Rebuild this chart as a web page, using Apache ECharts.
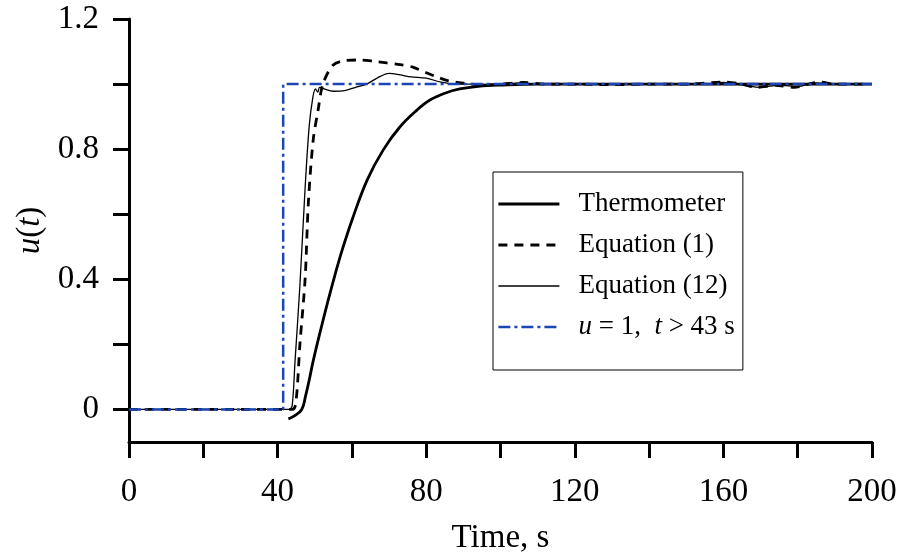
<!DOCTYPE html>
<html><head><meta charset="utf-8">
<script src="https://cdn.jsdelivr.net/npm/echarts@6/dist/echarts.min.js"></script>
<style>html,body{margin:0;padding:0;background:#fff}#c{width:907px;height:558px}</style>
</head><body><div id="c"></div>
<script>
// ---- data ----
const xTickValues = [0,20,40,60,80,100,120,140,160,180,200];
const xLabelValues = [0,40,80,120,160,200];
const yTickValues = [0,0.2,0.4,0.6,0.8,1.0,1.2];
const yLabelValues = [0,0.4,0.8,1.2];

const thermoT = [42.9,44.5,46.5,47.5,48.5,49.6,51.6,53.6,55.6,57.6,60.3,64.1,68.4,72.9,77.5,81,85,89,94,100,110,130,200];
const thermoU = [-0.029,-0.02,0.0,0.04,0.09,0.15,0.245,0.335,0.42,0.498,0.591,0.705,0.797,0.868,0.92,0.951,0.972,0.985,0.993,0.997,1.0,1.0,1.0];

const eq1T = [0,44,45,46,47.4,48.3,49.6,50.9,52.2,54.9,58,62.2,66,69.4,73,76.4,80,82.9,86,90,95,100,106,112,120,130,140,150,160,165,169,174,179,183,186,190,199.5];
const eq1U = [0,0,0.03,0.2,0.4,0.64,0.83,0.92,1.0,1.058,1.072,1.074,1.07,1.065,1.06,1.052,1.035,1.022,1.01,1.003,0.998,1.0,1.005,1.0,1.0,0.998,1.0,1.0,1.006,1.0,0.99,0.996,0.99,1.0,1.006,1.0,1.0];

const eq12T = [0,43,43.9,44.7,46,47.4,48.5,49.5,50.2,50.8,51.3,52.5,55,58,61,64,67,70,73,76,80,84,88,95,100,105,110,125,140,155,160,166,170,175,180,185,190,200];
const eq12U = [0,0,0.01,0.15,0.38,0.68,0.87,0.96,0.985,0.975,0.99,0.985,0.978,0.98,0.99,1.0,1.02,1.033,1.028,1.022,1.018,1.006,1.0,1.0,0.998,1.004,1.0,1.0,0.999,1.0,1.005,0.995,0.99,0.997,0.992,1.004,1.0,1.0];

const stepT = [0,41.5,41.5,200];
const stepU = [0,0,1,1];

const names = ['Thermometer','Equation (1)','Equation (12)','step'];

const pair = (a,b) => a.map((v,i)=>[v,b[i]]);
const FONT = "'Liberation Serif','Times New Roman',serif";
const BLUE = '#1c46b4';

const styles = [
  {color:'#000', width:2.8, type:'solid'},
  {color:'#000', width:2.8, type:[9,7]},
  {color:'#000', width:1.3, type:'solid'},
  {color:BLUE, width:2.5, type:[12,4,3,4]}
];

const chart = echarts.init(document.getElementById('c'), null, {renderer:'canvas'});
chart.setOption({
  animation:false,
  grid:{left:129, right:35, top:19, bottom:116, containLabel:false, outerBoundsMode:'none'},
  xAxis:{
    type:'value', min:0, max:200,
    name:'Time, s', nameLocation:'middle', nameGap:80,
    nameTextStyle:{fontFamily:FONT, fontSize:33, color:'#000'},
    axisLine:{show:true, onZero:false, lineStyle:{color:'#000', width:3}},
    axisTick:{show:true, inside:false, length:16, lineStyle:{color:'#000', width:3}, customValues:xTickValues},
    axisLabel:{fontFamily:FONT, fontSize:33, color:'#000', margin:34, customValues:xLabelValues},
    splitLine:{show:false}
  },
  yAxis:{
    type:'value', min:-0.1, max:1.2,
    name:'{i|u}({i|t})', nameLocation:'middle', nameGap:78, nameRotate:90,
    nameTextStyle:{fontFamily:FONT, fontSize:33, color:'#000', rich:{i:{fontFamily:FONT, fontSize:33, fontStyle:'italic', color:'#000'}}},
    axisLine:{show:true, onZero:false, lineStyle:{color:'#000', width:3}},
    axisTick:{show:true, inside:false, length:16, lineStyle:{color:'#000', width:3}, customValues:yTickValues},
    axisLabel:{fontFamily:FONT, fontSize:33, color:'#000', margin:30, customValues:yLabelValues,
      formatter:v=>String(+v.toFixed(1))},
    splitLine:{show:false}
  },
  legend:{
    orient:'vertical', left:493, top:172,
    data:names.map((n,i)=>({name:n, itemStyle:{opacity:0},
      lineStyle:{color:styles[i].color, width:styles[i].width, type:styles[i].type}})),
    itemWidth:61, itemHeight:14, itemGap:11,
    padding:[17,8,28,4],
    borderColor:'#000', borderWidth:1, backgroundColor:'#fff',
    textStyle:{fontFamily:FONT, fontSize:27, color:'#000', lineHeight:30, padding:[0,0,0,14],
      rich:{i:{fontFamily:FONT, fontSize:27, fontStyle:'italic', color:'#000', lineHeight:30}, n:{fontFamily:FONT, fontSize:27, color:'#000', lineHeight:30}}},
    formatter:n=> n==='step' ? '{i|u}{n| = 1,  }{i|t}{n| > 43 s}' : n
  },
  series:[
    {name:names[0], type:'line', data:pair(thermoT,thermoU), symbol:'none', smooth:0.4, z:3,
      lineStyle:styles[0], itemStyle:{color:'#000'}},
    {name:names[1], type:'line', data:pair(eq1T,eq1U), symbol:'none', smooth:0.3, z:3,
      lineStyle:styles[1], itemStyle:{color:'#000'}},
    {name:names[2], type:'line', data:pair(eq12T,eq12U), symbol:'none', smooth:0.3, z:3,
      lineStyle:styles[2], itemStyle:{color:'#000'}},
    {name:names[3], type:'line', data:pair(stepT,stepU), symbol:'none', z:4,
      lineStyle:styles[3], itemStyle:{color:BLUE}}
  ]
});
</script></body></html>
